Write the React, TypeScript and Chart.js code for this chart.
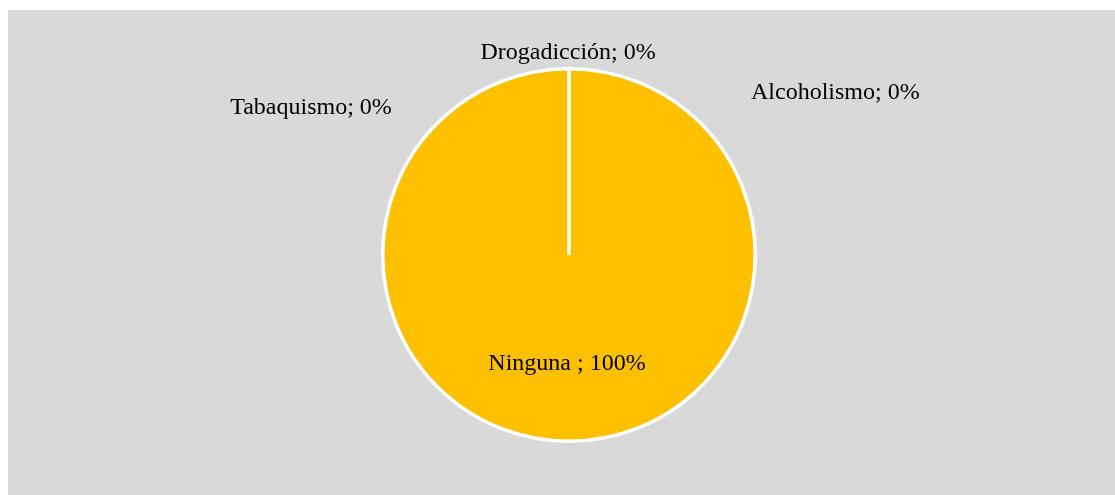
import React, { useEffect, useRef } from "react";
import { Chart, registerables } from "chart.js";

Chart.register(...registerables);

const categories = ["Tabaquismo", "Alcoholismo", "Drogadicción", "Ninguna "];
const values = [0, 0, 0, 100];
const percentLabels = ["0%", "0%", "0%", "100%"];
const sliceColors = ["#4472C4", "#ED7D31", "#A5A5A5", "#FFC000"];

// label placement (relative to pie radius) for each category
const labelOffsets: Array<[number, number] | null> = [
  [-1.385, -0.79],
  [1.43, -0.87],
  [-0.005, -1.085],
  null,
];

const labelPlugin = {
  id: "sliceLabels",
  afterDatasetsDraw(chart: any) {
    const ctx = chart.ctx;
    const meta = chart.getDatasetMeta(0);
    ctx.save();
    ctx.font = "24px 'Liberation Serif', 'DejaVu Serif', serif";
    ctx.fillStyle = "#000000";
    ctx.textAlign = "center";
    ctx.textBaseline = "middle";
    meta.data.forEach((arc: any, i: number) => {
      const { x, y, outerRadius, startAngle, endAngle } = arc.getProps(
        ["x", "y", "outerRadius", "startAngle", "endAngle"],
        true
      );
      const text = `${categories[i]}; ${percentLabels[i]}`;
      const off = labelOffsets[i];
      let lx: number, ly: number;
      if (off) {
        lx = x + off[0] * outerRadius;
        ly = y + off[1] * outerRadius;
      } else {
        const mid = (startAngle + endAngle) / 2;
        lx = x - 2 + Math.cos(mid) * outerRadius * 0.58;
        ly = y + Math.sin(mid) * outerRadius * 0.585;
      }
      ctx.fillText(text, lx, ly);
    });
    ctx.restore();
  },
};

export default function App() {
  const ref = useRef<HTMLCanvasElement | null>(null);
  useEffect(() => {
    if (!ref.current) return;
    const chart = new Chart(ref.current, {
      type: "pie",
      data: {
        labels: categories,
        datasets: [
          {
            data: values,
            backgroundColor: sliceColors,
            borderColor: "#FFFFFF",
            borderWidth: 3.5,
            hoverOffset: 0,
          },
        ],
      },
      options: {
        animation: false,
        responsive: false,
        maintainAspectRatio: false,
        layout: { padding: { top: 57, bottom: 52, left: 300, right: 285 } },
        plugins: {
          legend: { display: false },
          tooltip: { enabled: false },
        },
      },
      plugins: [labelPlugin],
    });
    return () => chart.destroy();
  }, []);
  return (
    <div
      style={{
        position: "absolute",
        left: 8,
        top: 10,
        width: 1107,
        height: 485,
        background: "#D9D9D9",
      }}
    >
      <canvas ref={ref} width={1107} height={485} style={{ display: "block" }} />
    </div>
  );
}
